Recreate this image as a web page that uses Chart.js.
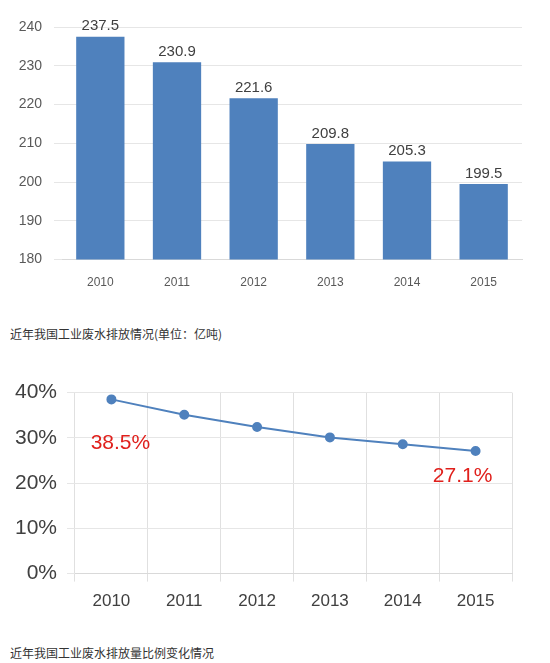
<!DOCTYPE html>
<html>
<head>
<meta charset="utf-8">
<script src="https://cdn.jsdelivr.net/npm/chart.js@4/dist/chart.umd.min.js"></script>
<style>
body { margin: 0; background: #fff; font-family: "Noto Sans CJK SC", sans-serif; }
#wrap { position: relative; width: 550px; height: 663px; }
.box { position: absolute; left: 0; width: 550px; }
.cap { position: absolute; left: 10px; font-size: 12px; color: #333; }
</style>
</head>
<body>
<div id="wrap">
  <div class="box" style="top:0;height:300px"><canvas id="barChart"></canvas></div>
  <div class="cap" style="top:325px">近年我国工业废水排放情况(单位：亿吨)</div>
  <div class="box" style="top:370px;height:260px"><canvas id="lineChart"></canvas></div>
  <div class="cap" style="top:644px">近年我国工业废水排放量比例变化情况</div>
</div>
<script>
// Data
const years = ['2010', '2011', '2012', '2013', '2014', '2015'];
const discharge = [237.5, 230.9, 221.6, 209.8, 205.3, 199.5];
const ratio = [38.5, 35.1, 32.4, 30.1, 28.6, 27.1];
const ratioNotes = ['38.5%', '', '', '', '', '27.1%'];

// Bar value labels
const barLabels = {
    id: 'barLabels',
    afterDatasetsDraw(chart) {
        const ctx = chart.ctx;
        const meta = chart.getDatasetMeta(0);
        ctx.save();
        ctx.font = '15px "Liberation Sans", Arial, sans-serif';
        ctx.fillStyle = '#404040';
        ctx.textAlign = 'center';
        ctx.textBaseline = 'bottom';
        meta.data.forEach((bar, i) => {
            ctx.fillText(discharge[i].toFixed(1), bar.x, bar.y - 3);
        });
        ctx.restore();
    }
};

// Red notes on the line (first one below-right, last one below-left)
const lineNotes = {
    id: 'lineNotes',
    afterDatasetsDraw(chart) {
        const ctx = chart.ctx;
        const meta = chart.getDatasetMeta(0);
        ctx.save();
        ctx.font = '21px "Liberation Sans", Arial, sans-serif';
        ctx.fillStyle = '#e0201c';
        ctx.textAlign = 'center';
        ctx.textBaseline = 'middle';
        meta.data.forEach((pt, i) => {
            if (!ratioNotes[i]) return;
            if (i === 0) ctx.fillText(ratioNotes[i], pt.x + 9, pt.y + 44);
            else ctx.fillText(ratioNotes[i], pt.x - 13, pt.y + 25);
        });
        ctx.restore();
    }
};

new Chart(document.getElementById('barChart'), {
    type: 'bar',
    data: {
        labels: years,
        datasets: [{
            data: discharge,
            backgroundColor: '#4f81bd',
            barPercentage: 0.63,
            categoryPercentage: 1
        }]
    },
    plugins: [barLabels],
    options: {
        responsive: true,
        maintainAspectRatio: false,
        animation: false,
        layout: { padding: { top: 27, right: 28, bottom: 2 } },
        plugins: { legend: { display: false }, tooltip: { enabled: false } },
        scales: {
            x: {
                grid: { display: false },
                border: { color: '#d9d9d9' },
                ticks: { color: '#595959', font: { size: 12 }, padding: 8 }
            },
            y: {
                min: 180, max: 240,
                afterFit(s) { s.width = 62; },
                grid: { color: '#e6e6e6' },
                border: { display: false },
                ticks: { stepSize: 10, color: '#595959', font: { size: 14 }, padding: 12 }
            }
        }
    }
});

new Chart(document.getElementById('lineChart'), {
    type: 'line',
    data: {
        labels: years,
        datasets: [{
            data: ratio,
            borderColor: '#4f81bd',
            backgroundColor: '#4f81bd',
            borderWidth: 2,
            pointRadius: 4,
            tension: 0
        }]
    },
    plugins: [lineNotes],
    options: {
        responsive: true,
        maintainAspectRatio: false,
        animation: false,
        layout: { padding: { top: 20, right: 38, bottom: 8 } },
        plugins: { legend: { display: false }, tooltip: { enabled: false } },
        scales: {
            x: {
                offset: true,
                grid: { color: '#e0e0e0', offset: true },
                border: { color: '#d9d9d9' },
                ticks: { color: '#404040', font: { size: 17 }, padding: 10 }
            },
            y: {
                min: 0, max: 40,
                afterFit(s) { s.width = 75; },
                grid: { color: '#e6e6e6' },
                border: { display: false },
                ticks: { stepSize: 10, color: '#404040', font: { size: 21 }, padding: 10,
                    callback: v => v + '%' }
            }
        }
    }
});
</script>
</body>
</html>
